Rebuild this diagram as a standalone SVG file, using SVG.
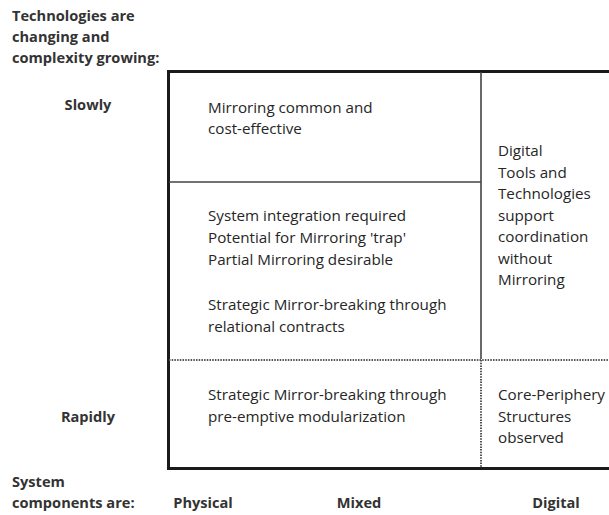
<svg xmlns="http://www.w3.org/2000/svg" width="609" height="515" viewBox="0 0 609 515">
<style>
.t{font-family:"Open Sans","Liberation Sans",sans-serif;font-size:15.2px;fill:#262626}
.b{font-family:"Open Sans","Liberation Sans",sans-serif;font-size:14.6px;font-weight:bold;fill:#333}
.thick{stroke:#1a1a1a;stroke-width:3;fill:none}
.thin{stroke:#444;stroke-width:1.6;fill:none}
.dash{stroke:#555;stroke-width:2;stroke-dasharray:1.5 1.2;fill:none}
</style>
<rect width="609" height="515" fill="#fff"/>
<g id="labels">
<text class="b" x="12" y="21">Technologies are</text>
<text class="b" x="12" y="42">changing and</text>
<text class="b" x="12" y="63">complexity growing:</text>
<text class="b" x="88" y="110" text-anchor="middle">Slowly</text>
<text class="b" x="88" y="422" text-anchor="middle">Rapidly</text>
<text class="b" x="12" y="487">System</text>
<text class="b" x="12" y="508">components are:</text>
<text class="b" x="203" y="508" text-anchor="middle">Physical</text>
<text class="b" x="359" y="508" text-anchor="middle">Mixed</text>
<text class="b" x="556" y="508" text-anchor="middle">Digital</text>
</g>
<g id="grid">
<path class="thick" d="M609 71.5H168.5V468.5H609"/>
<path class="thin" d="M481 72V359M169 182H481"/>
<path class="dash" d="M169 360H609M481 360V467"/>
</g>
<g id="cell-slow-physical">
<text class="t" x="208" y="113">Mirroring common and</text>
<text class="t" x="208" y="134">cost-effective</text>
</g>
<g id="cell-mixed">
<text class="t" x="208" y="221">System integration required</text>
<text class="t" x="208" y="243">Potential for Mirroring 'trap'</text>
<text class="t" x="208" y="264.5">Partial Mirroring desirable</text>
<text class="t" x="208" y="310">Strategic Mirror-breaking through</text>
<text class="t" x="208" y="331.5">relational contracts</text>
</g>
<g id="cell-digital">
<text class="t" x="498" y="156">Digital</text>
<text class="t" x="498" y="177.5">Tools and</text>
<text class="t" x="498" y="199">Technologies</text>
<text class="t" x="498" y="220.5">support</text>
<text class="t" x="498" y="242">coordination</text>
<text class="t" x="498" y="263.5">without</text>
<text class="t" x="498" y="285">Mirroring</text>
</g>
<g id="cell-rapid-physical">
<text class="t" x="208" y="400">Strategic Mirror-breaking through</text>
<text class="t" x="208" y="421.5">pre-emptive modularization</text>
</g>
<g id="cell-rapid-digital">
<text class="t" x="498" y="400">Core-Periphery</text>
<text class="t" x="498" y="421.5">Structures</text>
<text class="t" x="498" y="443">observed</text>
</g>
</svg>
